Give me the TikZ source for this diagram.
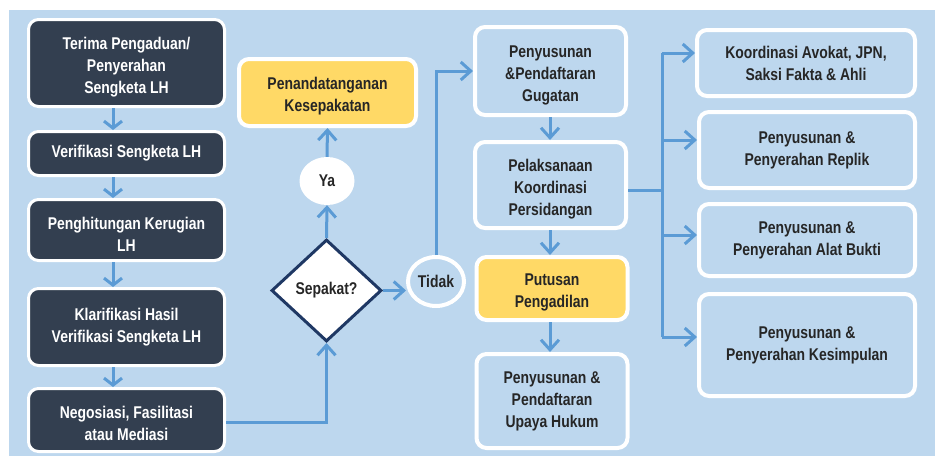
\documentclass[tikz,border=0pt]{standalone}
\usepackage{fontspec}
\setmainfont{Liberation Sans}[FakeStretch=0.82]
\usetikzlibrary{arrows.meta,shapes.geometric}
\definecolor{bg}{HTML}{BDD7EE}
\definecolor{dark}{HTML}{333F50}
\definecolor{gold}{HTML}{FFD966}
\definecolor{arrowblue}{HTML}{5B9BD5}
\definecolor{navy}{HTML}{1F3864}
\definecolor{txt}{HTML}{262626}
\newcommand{\mytopstrut}{\rule{0pt}{20pt}}
\begin{document}
\begin{tikzpicture}[x=1pt,y=-1pt,
  every node/.style={font=\fontsize{17}{22}\selectfont\bfseries, align=center, inner sep=0pt},
  sz/.style 2 args={minimum width=#1pt, minimum height=#2pt},
  box/.style={rectangle, rounded corners=10pt, draw=white},
  darkbox/.style={box, line width=3pt, fill=dark, text=white},
  lightbox/.style={box, line width=4pt, fill=bg, text=txt},
  goldbox/.style={box, line width=4pt, fill=gold, text=txt},
  conn/.style={draw=arrowblue, line width=3pt},
  arr/.style={conn, -{Straight Barb[length=10pt,width=18pt]}},
  sarr/.style={conn, -{Straight Barb[length=7pt,width=18pt]}}
]
\useasboundingbox (0,0) rectangle (935,456);
\fill[white] (0,0) rectangle (935,456);
\fill[bg] (9,10) rectangle (935,456);

% left column
\node[darkbox, sz={196}{87}] (A) at (126.5,63) {\mytopstrut Terima Pengaduan/\\Penyerahan\\Sengketa LH};
\node[darkbox, sz={196}{44}] (B) at (126.5,153.5) {Verifikasi Sengketa LH};
\node[darkbox, sz={196}{61}] (C) at (126.5,230) {\mytopstrut Penghitungan Kerugian\\LH};
\node[darkbox, sz={196}{77}] (D) at (126.5,327) {Klarifikasi Hasil\\Verifikasi Sengketa LH};
\node[darkbox, sz={196}{63}] (E) at (126.5,420) {\mytopstrut Negosiasi, Fasilitasi\\atau Mediasi};

% decision
\node[goldbox, sz={177}{67}] (P) at (327.5,92.5) {\mytopstrut Penandatanganan\\Kesepakatan};
\node[diamond, draw=navy, line width=3pt, fill=white, text=txt, sz={110}{102}] (S) at (326.5,290.5) {Sepakat?};
\node[ellipse, fill=white, text=txt, sz={55}{48}] (Y) at (327,181) {Ya};
\node[ellipse, draw=white, line width=4pt, fill=bg, text=txt, sz={56}{49}] (T) at (436,281.5) {Tidak};

% middle column
\node[lightbox, sz={151}{88}] (F) at (550.5,71) {\mytopstrut Penyusunan\\\&Pendaftaran\\Gugatan};
\node[lightbox, sz={151}{86}] (G) at (550.5,185) {\mytopstrut Pelaksanaan\\Koordinasi\\Persidangan};
\node[goldbox, sz={151}{63}] (H) at (552,288.5) {\mytopstrut Putusan\\Pengadilan};
\node[lightbox, sz={151}{94}] (I) at (552,401) {Penyusunan \&\\Pendaftaran\\Upaya Hukum};

% right column
\node[lightbox, sz={218}{66}] (J) at (806,63) {Koordinasi Avokat, JPN,\\Saksi Fakta \& Ahli};
\node[lightbox, sz={216}{76}] (K) at (807,150) {Penyusunan \&\\Penyerahan Replik};
\node[lightbox, sz={216}{72}] (L) at (807,240) {Penyusunan \&\\Penyerahan Alat Bukti};
\node[lightbox, sz={216}{102}] (M) at (807,345) {Penyusunan \&\\Penyerahan Kesimpulan};

% connectors
\coordinate (ax) at (113,0);
\draw[sarr] (A.south -| ax) -- (B.north -| ax);
\draw[sarr] (B.south -| ax) -- (C.north -| ax);
\draw[sarr] (C.south -| ax) -- (D.north -| ax);
\draw[sarr] (D.south -| ax) -- (E.north -| ax);
\draw[arr] ([yshift=-2pt]E.east) -| (S.south);
\draw[arr] (S.north) -- (Y.south);
\draw[arr] (Y.north) -- (P.south);
\draw[arr] (S.east) -- (S.east -| T.west);
\draw[arr] (T.north) |- (F.west);
\coordinate (cx) at (550,0);
\draw[arr] (F.south -| cx) -- (G.north -| cx);
\draw[arr] (G.south -| cx) -- (H.north -| cx);
\draw[arr] (H.south -| cx) -- (I.north -| cx);
\coordinate (b1) at (662,53);
\coordinate (b2) at (662,140);
\coordinate (b3) at (662,235);
\coordinate (b4) at (662,337);
\draw[conn] ([yshift=-5pt]G.east) -- ([yshift=-5pt]G.east -| b1);
\draw[conn] (b1) -- (b4);
\draw[arr] (b1) -- (b1 -| J.west);
\draw[arr] (b2) -- (b2 -| K.west);
\draw[arr] (b3) -- (b3 -| L.west);
\draw[arr] (b4) -- (b4 -| M.west);
\end{tikzpicture}
\end{document}
